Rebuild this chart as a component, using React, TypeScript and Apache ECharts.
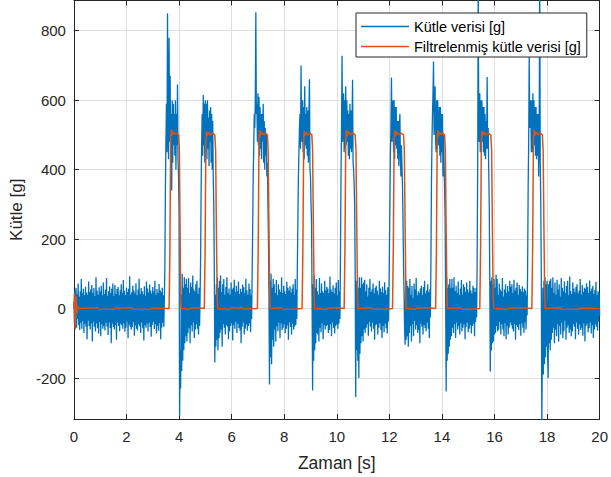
import React, { useEffect, useRef } from "react";
import * as echarts from "echarts";

// ---- DATA ----
const SAMPLE_STEP = 0.02; // s between raw samples
const xTicks = [0, 2, 4, 6, 8, 10, 12, 14, 16, 18, 20];
const yTickStep = 200;
const seriesNames = ["Kütle verisi [g]", "Filtrelenmiş kütle verisi [g]"];

// raw mass data: segments of samples, each with its start time
const base0 = [
  20, -45, 52, -38, 60, -55, 41, -30, 72, -48,
  35, -62, 50, -41, 85, -58, 44, -36, 57, -70,
  38, -44, 63, -52, 46, -88, 40, -35, 78, -50,
  48, -60, 55, -42, 68, -95, 45, -38, 59, -52,
  36, -66, 90, -43, 52, -57, 40, -72, 61, -39,
  49, -80, 66, -45, 38, -58, 75, -50, 42, -63,
  55, -41, 88, -52, 37, -76, 50, -40, 64, -56,
  44, -100, 58, -43, 72, -53, 36, -60, 68, -47,
  42, -90, 56, -40, 62, -50, 38, -65, 53, -44,
  70, -48, 45, -58, 82, -42, 51, -67, 39, -55,
  60, -37, 48, -85, 57, -46, 93, -52, 40, -61,
  47, -54, 66, -39, 52, -78, 44, -49, 73, -58,
  38, -63, 55, -45, 86, -51, 42, -70, 59, -40,
  50, -57, 41, -92, 64, -48, 37, -55, 78, -44,
  58, -66, 46, -40, 69, -53, 52, -81, 43, -47,
  62, -38, 49, -59, 80, -45, 40, -72, 56, -50,
  45, -64, 71, -42, 53, -88, 48, -55, 60, -41,
  38, -52, 30,
];
const pulse1 = [
  120, 340, 480, 590, 450, 850, 520, 430, 780, 480,
  670, 450, 560, 340, 600, 420, 590, 470, 560, 440,
  600, 400, 560, 470, 645, 430, 380, 270, -310, -120,
  -230, 40, -180, 100, -150, 60, -120, 90, -100, 70,
  -80, 85,
];
const base1 = [
  -95, 60, -70, 88, -55, 45, -100, 75, -48, 62,
  -66, 95, -40, 55, -85, 50, -60, 70, -45, 80,
  -58, 42, -75, 60, -50, 35,
];
const pulse2 = [
  150, 350, 480, 560, 440, 615, 470, 590, 420, 600,
  450, 590, 430, 600, 460, 550, 410, 570, 480, 580,
  420, 560, 400, 540, 380, 300, 120, -155, 40, -110,
  70, -90, 90, -120, 60, -85, 80, -70,
];
const base2 = [
  95, -60, 48, -110, 70, -45, 85, -55, 40, -75,
  62, -48, 90, -52, 45, -88, 58, -66, 40, -50,
  75, -42, 55, -92, 60, -47, 83, -58, 47, -38,
  66, -70, 50, -44, 78, -56, 42, -63, 57, -100,
  48, -52, 69, -40, 61, -75, 44, -58, 86, -46,
  53, -64, 40, -50, 72, -43, 56, -68, 38, -30,
];
const pulse3 = [
  100, 230, 380, 460, 560, 520, 600, 853, 560, 590,
  480, 620, 470, 610, 440, 580, 460, 560, 430, 560,
  480, 590, 420, 540, 400, 520, 440, 500, 380, 420,
  300, 200, 30, -219, 80, -140, 100, -160, 60, -90,
  85, -110, 70,
];
const base3 = [
  -60, 45, -95, 82, -50, 38, -65, 70, -40, 55,
  -85, 48, -42, 90, -62, 45, -55, 66, -45, 50,
  -70, 42, -58, 77, -48, 60, -90, 52, -40, 64,
  -53, 46, -75, 58, -44, 70, -60, 40, -52, 85,
  -47, 55, -30,
];
const pulse4 = [
  120, 250, 380, 450, 520, 560, 460, 700, 500, 480,
  600, 450, 580, 430, 640, 470, 560, 460, 580, 440,
  570, 420, 560, 660, 400, 380, 300, 250, 20, -236,
  70, -150, 95, -120, 60, -100, 85, -70, 50,
];
const base4 = [
  -75, 40, -95, 88, -55, 45, -68, 72, -42, 50,
  -88, 45, -48, 80, -60, 52, -50, 63, -47, 58,
  -70, 44, -62, 92, -45, 55, -80, 48, -40, 67,
  -56, 43, -72, 60, -50, 75, -46, 38, -58, 82,
  -44, 50, -30,
];
const pulse5 = [
  150, 380, 520, 728, 480, 520, 620, 450, 600, 460,
  640, 470, 600, 480, 570, 440, 560, 430, 590, 460,
  570, 450, 520, 659, 420, 400, 360, 300, 100, -255,
  80, -120, 50, -150, 60, -200, 90, -130, 60, -100,
  90, -80, 70,
];
const base5 = [
  -95, 75, -60, 83, -70, 50, -55, 70, -45, 35,
  -78, 60, -38, 85, -52, 48, -66, 55, -40, 72,
  -58, 44, -90, 60, -48, 66, -45, 52, -75, 40,
  -55, 80, -42, 58, -62, 47, -85, 63, -50, 45,
  -68, 76, -44, 53, -57, 40, -72, 61, -38, 20,
];
const pulse6 = [
  150, 300, 450, 520, 665, 480, 560, 600, 450, 600,
  430, 580, 470, 580, 460, 540, 430, 540, 410, 520,
  560, 430, 380, 470, 410, 350, 250, 120, 40, -60,
  -104, 70, -90, 80, -80, 65,
];
const base6 = [
  -110, 60, -70, 85, -50, 40, -95, 65, -45, 30,
  -80, 72, -35, 55, -60, 88, -48, 38, -70, 50,
  -62, 45, -100, 58, -44, 66, -52, 40, -75, 62,
  -48, 80, -56, 43, -65, 52, -40, 70, -58, 47,
  -85, 55, -25,
];
const pulse7 = [
  120, 350, 480, 560, 620, 711, 500, 560, 640, 480,
  450, 600, 460, 600, 470, 480, 580, 440, 580, 420,
  560, 450, 560, 380, 500, 420, 350, 260, 50, -239,
  90, -150, 60, -130, 70, -110, 85, -90, 60,
];
const base7 = [
  -80, 85, -55, 60, -70, 90, -45, 50, -85, 66,
  -40, 45, -60, 78, -50, 38, -75, 58, -42, 82,
  -65, 40, -55, 70, -45, 62, -88, 48, -52, 75,
  -40, 55, -68, 46, -58, 80, -47, 52, -72, 43,
  -50, 66, -44, 59, -80, 48, -38, 60, -25,
];
const pulse8 = [
  150, 400, 950, 520, 480, 620, 450, 600, 470, 600,
  480, 580, 450, 580, 440, 560, 430, 540, 460, 667,
  460, 520, 400, 300, 80, -181, 80, -120, 90, -100,
  70, -95, 85, -75, 60,
];
const base8 = [
  -70, 97, -50, 85, -65, 40, -60, 72, -38, 55,
  -75, 50, -45, 88, -60, 35, -80, 55, -42, 70,
  -88, 45, -50, 65, -75, 50, -55, 80, -40, 62,
  -48, 70, -58, 45, -66, 83, -44, 52, -90, 60,
  -47, 75, -53, 40, -62, 68, -45, 56, -78, 49,
  -42, 64, -55, 47, -70, 58, -40, 52, -60, 38,
  -20,
];
const pulse9 = [
  120, 350, 480, 731, 520, 560, 600, 450, 600, 450,
  620, 460, 600, 470, 580, 440, 580, 430, 560, 440,
  560, 380, 520, 950, 420, 300, 100, -340, -120, 60,
  -190, 80, -160, 90, -140, 70, -110, 80, -130, -200,
  70, -100, 80,
];
const base9 = [
  -120, 85, -90, 60, -70, 90, -55, 45, -100, 75,
  -60, 40, -80, 83, -45, 55, -95, 70, -50, 35,
  -75, 88, -40, 60, -85, 50, -65, 78, -35, 45,
  -90, 65, -55, 80, -48, 38, -70, 92, -60, 50,
  -80, 42, -66, 75, -45, 58, -52, 47, -88, 63,
  -40, 70, -58, 44, -75, 52, -46, 85, -62, 40,
  -55, 68, -78, 48, -42, 60, -95, 56, -50, 73,
  -44, 62, -68, 45, -57, 81, -40, 50, -72, 58,
  -48, 66, -85, 42, -60, 54, -45, 77, -52, 40,
  -64, 50, -38, 45, -20,
];
const rawSegments: [number, number[]][] = [
  [0, base0], [3.46, pulse1], [4.3, base1], [4.82, pulse2], [5.58, base2],
  [6.78, pulse3], [7.64, base3], [8.5, pulse4], [9.28, base4], [10.14, pulse5],
  [11.0, base5], [12.0, pulse6], [12.72, base6], [13.58, pulse7], [14.36, base7],
  [15.34, pulse8], [16.04, base8], [17.26, pulse9], [18.12, base9],
];

// filtered mass data [time, value]
const filtered: [number, number][] = [
  [0, 0], [0.02, 45], [0.05, -60], [0.08, 35], [0.11, -15], [0.14, 8], [0.18, 0],
  [0.9, 2], [0.95, -1], [1.5, -2], [1.55, 1], [2.2, 2], [2.25, -1], [2.9, -2], [2.95, 1],
  [3.62, 0], [3.65, 160], [3.68, 480], [3.7, 515], [3.73, 498], [3.77, 510], [3.82, 502], [3.9, 506], [3.98, 500], [4.01, 460], [4.04, 220], [4.06, 30], [4.08, 0],
  [4.4, -2], [4.45, 1], [4.7, 2],
  [4.96, 0], [4.99, 170], [5.02, 480], [5.04, 512], [5.07, 497], [5.11, 508], [5.18, 500], [5.27, 505], [5.36, 500], [5.39, 455], [5.42, 230], [5.45, 30], [5.47, 0],
  [5.9, -2], [5.95, 1], [6.4, 2], [6.45, -1],
  [6.98, 0], [7.01, 170], [7.04, 480], [7.06, 514], [7.09, 496], [7.13, 509], [7.2, 501], [7.28, 505], [7.36, 500], [7.39, 455], [7.42, 230], [7.45, 30], [7.47, 0],
  [7.9, 2], [7.95, -1], [8.3, -2],
  [8.68, 0], [8.71, 170], [8.74, 480], [8.76, 512], [8.79, 497], [8.83, 508], [8.9, 500], [8.98, 505], [9.05, 500], [9.08, 455], [9.11, 230], [9.14, 30], [9.16, 0],
  [9.6, -2], [9.65, 1], [10.0, 2],
  [10.28, 0], [10.31, 170], [10.34, 480], [10.36, 515], [10.39, 496], [10.43, 510], [10.5, 501], [10.6, 506], [10.7, 500], [10.73, 455], [10.76, 230], [10.79, 30], [10.81, 0],
  [11.3, 2], [11.35, -1], [11.8, -2],
  [12.12, 0], [12.15, 170], [12.18, 480], [12.2, 513], [12.23, 497], [12.27, 509], [12.34, 501], [12.44, 505], [12.54, 500], [12.57, 455], [12.6, 230], [12.63, 30], [12.65, 0],
  [13.0, -2], [13.05, 1], [13.4, 2],
  [13.76, 0], [13.79, 170], [13.82, 480], [13.84, 514], [13.87, 496], [13.91, 508], [13.97, 501], [14.04, 505], [14.1, 500], [14.13, 455], [14.16, 230], [14.19, 30], [14.21, 0],
  [14.7, 2], [14.75, -1], [15.1, -2],
  [15.44, 0], [15.47, 170], [15.5, 480], [15.52, 512], [15.55, 497], [15.59, 509], [15.66, 501], [15.76, 505], [15.86, 500], [15.89, 455], [15.92, 230], [15.95, 30], [15.97, 0],
  [16.5, -2], [16.55, 1], [17.0, 2],
  [17.42, 0], [17.45, 170], [17.48, 480], [17.5, 515], [17.53, 497], [17.57, 510], [17.64, 501], [17.73, 506], [17.82, 500], [17.85, 455], [17.88, 230], [17.91, 30], [17.93, 0],
  [18.5, 2], [18.55, -1], [19.2, -2], [19.25, 1], [20, 0],
];

const rawData: [number, number][] = [];
rawSegments.forEach(([t0, vals], s) => {
  const next = s + 1 < rawSegments.length ? rawSegments[s + 1][0] : Infinity;
  vals.forEach((v, k) => {
    const t = Math.round((t0 + k * SAMPLE_STEP) * 1000) / 1000;
    if (t < next - 1e-6) rawData.push([t, v]);
  });
});

const FONT = 'Arial, "Liberation Sans", Helvetica, sans-serif';
const AX = "#262626";
const GRID = "#dfdfdf";

export default function App() {
  const ref = useRef<HTMLDivElement>(null);
  useEffect(() => {
    if (!ref.current) return;
    const chart = echarts.init(ref.current, undefined, { renderer: "svg" });
    const commonLine = { show: true, onZero: false, lineStyle: { color: AX, width: 1 } };
    const commonTick = { show: true, inside: true, length: 5, lineStyle: { color: AX, width: 1 } };
    chart.setOption({
      animation: false,
      backgroundColor: "#ffffff",
      grid: { left: 70.7, right: 8.7, top: 0.5, bottom: 57.7, containLabel: false },
      legend: {
        orient: "vertical",
        left: 356,
        top: 13,
        backgroundColor: "#ffffff",
        borderColor: AX,
        borderWidth: 1,
        padding: [5, 6, 2, 5],
        itemWidth: 48,
        itemHeight: 1.5,
        itemGap: 3,
        textStyle: { fontSize: 14.5, color: "#000000", fontFamily: FONT, lineHeight: 17 },
        data: [
          { name: seriesNames[0], icon: "rect" },
          { name: seriesNames[1], icon: "rect" },
        ],
      },
      xAxis: [
        {
          type: "value",
          min: xTicks[0],
          max: xTicks[xTicks.length - 1],
          interval: xTicks[1] - xTicks[0],
          position: "bottom",
          axisLine: commonLine,
          axisTick: commonTick,
          axisLabel: { color: AX, fontSize: 15, fontFamily: FONT, margin: 10 },
          splitLine: { show: true, lineStyle: { color: GRID, width: 1 } },
          name: "Zaman [s]",
          nameLocation: "middle",
          nameGap: 35,
          nameTextStyle: { fontSize: 17.5, color: AX, fontFamily: FONT },
        },
        {
          type: "value",
          min: xTicks[0],
          max: xTicks[xTicks.length - 1],
          interval: xTicks[1] - xTicks[0],
          position: "top",
          axisLine: commonLine,
          axisTick: commonTick,
          axisLabel: { show: false },
          splitLine: { show: false },
        },
      ],
      yAxis: [
        {
          type: "value",
          min: -318,
          max: 887,
          splitNumber: 6,
          minInterval: yTickStep,
          maxInterval: yTickStep,
          position: "left",
          axisLine: commonLine,
          axisTick: commonTick,
          axisLabel: {
            color: AX,
            fontSize: 15,
            fontFamily: FONT,
            margin: 8,
            showMinLabel: false,
            showMaxLabel: false,
            formatter: (v: number) => (Math.abs(v % yTickStep) < 1e-6 ? String(v) : ""),
          },
          splitLine: { show: true, lineStyle: { color: GRID, width: 1 } },
          name: "Kütle [g]",
          nameLocation: "middle",
          nameGap: 45,
          nameTextStyle: { fontSize: 17, color: AX, fontFamily: FONT },
        },
        {
          type: "value",
          min: -318,
          max: 887,
          splitNumber: 6,
          minInterval: yTickStep,
          maxInterval: yTickStep,
          position: "right",
          axisLine: commonLine,
          axisTick: commonTick,
          axisLabel: { show: false },
          splitLine: { show: false },
        },
      ],
      series: [
        {
          name: seriesNames[0],
          type: "line",
          xAxisIndex: 0,
          yAxisIndex: 0,
          data: rawData,
          showSymbol: false,
          symbol: "none",
          color: "#0072BD",
          lineStyle: { color: "#0072BD", width: 1.3 },
          clip: true,
          z: 2,
        },
        {
          name: seriesNames[1],
          type: "line",
          xAxisIndex: 0,
          yAxisIndex: 0,
          data: filtered,
          showSymbol: false,
          symbol: "none",
          color: "#D95319",
          lineStyle: { color: "#D95319", width: 1.5 },
          clip: true,
          z: 3,
        },
      ],
    });
    return () => chart.dispose();
  }, []);
  return (
    <div
      ref={ref}
      style={{ position: "fixed", left: 0, top: 0, width: 611, height: 477, background: "#fff" }}
    />
  );
}
